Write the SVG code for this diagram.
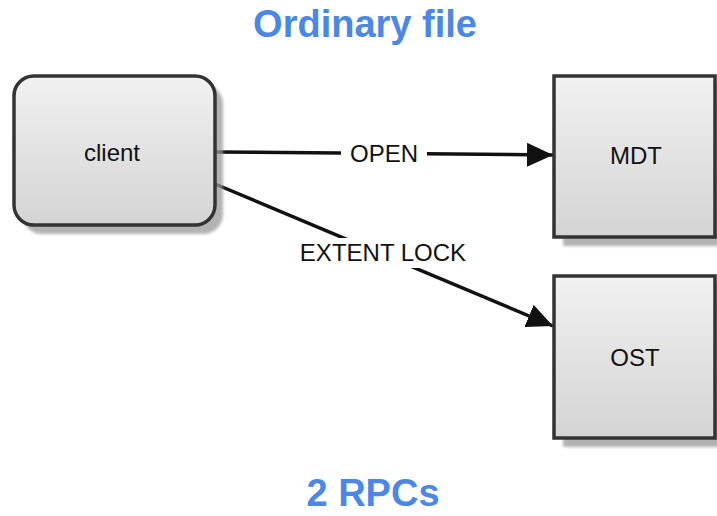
<svg xmlns="http://www.w3.org/2000/svg" width="717" height="516" viewBox="0 0 717 516">
  <style>
    .title { font-family: "Liberation Sans", Arial, sans-serif; font-weight: bold; font-size: 38px; fill: #4b87e6; text-anchor: middle; }
    .label { font-family: "Liberation Sans", Arial, sans-serif; font-size: 24px; fill: #111; text-anchor: middle; }
    .box { fill: url(#boxFill); stroke: #333; stroke-width: 3.5; }
    .shadow { fill: #9a9a9a; opacity: 0.75; filter: url(#soft); }
    .edge { stroke: #111; stroke-width: 3.5; fill: none; marker-end: url(#head); }
    .edgeLabel { fill: #fff; }
  </style>
  <defs>
    <linearGradient id="boxFill" x1="0" y1="0" x2="0" y2="1">
      <stop offset="0" stop-color="#f1f1f1"/>
      <stop offset="1" stop-color="#d4d4d4"/>
    </linearGradient>
    <filter id="soft" x="-10%" y="-10%" width="120%" height="120%">
      <feGaussianBlur stdDeviation="1.5"/>
    </filter>
    <marker id="head" viewBox="0 0 26 24" refX="26" refY="12" markerWidth="26" markerHeight="24" markerUnits="userSpaceOnUse" orient="auto">
      <path d="M0,0 L26,12 L0,24 z" fill="#111"/>
    </marker>
  </defs>

  <text class="title" x="365" y="37">Ordinary file</text>

  <g id="connectors">
    <line class="edge" x1="215" y1="152" x2="553" y2="155"/>
    <line class="edge" x1="215" y1="184" x2="553" y2="326"/>
    <rect class="edgeLabel" x="341" y="140" width="86" height="28"/>
    <text class="label" x="384" y="162">OPEN</text>
    <rect class="edgeLabel" x="296" y="238" width="174" height="30"/>
    <text class="label" x="383" y="261">EXTENT LOCK</text>
  </g>

  <g id="client">
    <rect class="shadow" x="22" y="84" width="201" height="150" rx="20"/>
    <rect class="box" x="14" y="76" width="201" height="149" rx="20"/>
    <text class="label" x="112" y="161">client</text>
  </g>

  <g id="mdt">
    <rect class="shadow" x="563" y="85" width="160" height="161"/>
    <rect class="box" x="554" y="76" width="161" height="161"/>
    <text class="label" x="636" y="164">MDT</text>
  </g>

  <g id="ost">
    <rect class="shadow" x="563" y="285" width="160" height="162"/>
    <rect class="box" x="554" y="276" width="161" height="162"/>
    <text class="label" x="635" y="366">OST</text>
  </g>

  <text class="title" x="373" y="506">2 RPCs</text>
</svg>
